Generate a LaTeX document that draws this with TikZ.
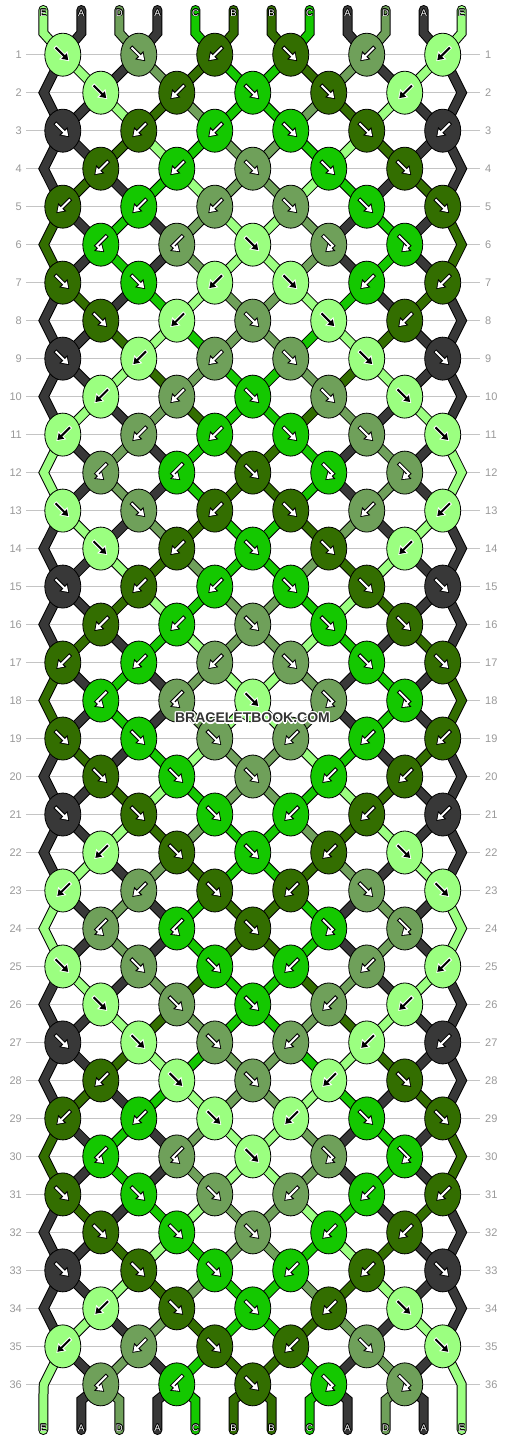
\documentclass[tikz,border=0pt]{standalone}
\usepackage{fontspec}
\setmainfont{Liberation Sans}
\usetikzlibrary{arrows.meta,shapes.geometric}

\definecolor{colA}{HTML}{383838}
\definecolor{colB}{HTML}{336E00}
\definecolor{colC}{HTML}{14C800}
\definecolor{colD}{HTML}{6FA05A}
\definecolor{colE}{HTML}{9BFF80}
\definecolor{rowgray}{HTML}{C4C4C4}
\definecolor{labgray}{HTML}{999999}
\definecolor{wmgray}{HTML}{333333}

\newcount\pcnt
\newif\ifedgepos
\newif\ifsegskip

% string states after each row (patterns)
\newcommand\defstate[2]{%
  \global\pcnt=0
  \foreach \sv in {#2}{%
    \global\advance\pcnt by 1
    \expandafter\xdef\csname st#1-\the\pcnt\endcsname{\sv}}}
\defstate{0}{E,A,D,A,C,B,B,C,A,D,A,E}
\defstate{1}{A,E,A,D,B,C,C,B,D,A,E,A}
\defstate{2}{A,A,E,B,D,C,C,D,B,E,A,A}
\defstate{3}{A,A,B,E,C,D,D,C,E,B,A,A}
\defstate{4}{A,B,A,C,E,D,D,E,C,A,B,A}
\defstate{5}{B,A,C,A,D,E,E,D,A,C,A,B}

% which pattern holds after row r (r = 0..36)
\newcommand\defrows[1]{%
  \global\pcnt=0
  \foreach \sv in {#1}{%
    \expandafter\xdef\csname rs\the\pcnt\endcsname{\sv}%
    \global\advance\pcnt by 1}}
\defrows{0,1,2,3,4,5,5,4,3,2,1,0,0,1,2,3,4,5,5,4,3,2,1,0,0,1,2,3,4,5,5,4,3,2,1,0,0}

% knot types per row
\newcommand\defknots[2]{%
  \global\pcnt=0
  \foreach \sv in {#2}{%
    \global\advance\pcnt by 1
    \expandafter\xdef\csname kt#1-\the\pcnt\endcsname{\sv}}}
\defknots{1}{f,f,b,f,b,b}
\defknots{2}{f,b,f,f,b}
\defknots{3}{f,b,b,f,f,b}
\defknots{4}{b,b,f,f,f}
\defknots{5}{b,b,b,f,f,f}
\defknots{6}{bf,bf,f,fb,fb}
\defknots{7}{f,f,b,f,b,b}
\defknots{8}{f,b,f,f,b}
\defknots{9}{f,b,b,f,f,f}
\defknots{10}{b,b,f,f,f}
\defknots{11}{b,b,b,f,f,f}
\defknots{12}{bf,bf,f,fb,fb}
\defknots{13}{f,f,b,f,b,b}
\defknots{14}{f,b,f,f,b}
\defknots{15}{f,b,b,f,f,f}
\defknots{16}{b,b,f,f,f}
\defknots{17}{b,b,b,f,f,f}
\defknots{18}{bf,bf,f,fb,fb}
\defknots{19}{f,f,f,b,b,b}
\defknots{20}{f,f,f,b,b}
\defknots{21}{f,f,f,b,b,b}
\defknots{22}{b,f,f,b,f}
\defknots{23}{b,b,f,b,f,f}
\defknots{24}{bf,bf,f,fb,fb}
\defknots{25}{f,f,f,b,b,b}
\defknots{26}{f,f,f,b,b}
\defknots{27}{f,f,f,b,b,b}
\defknots{28}{b,f,f,b,f}
\defknots{29}{b,b,f,b,f,f}
\defknots{30}{bf,bf,f,fb,fb}
\defknots{31}{f,f,f,b,b,b}
\defknots{32}{f,f,f,b,b}
\defknots{33}{f,f,f,b,b,f}
\defknots{34}{b,f,f,b,f}
\defknots{35}{b,b,f,b,f,f}
\defknots{36}{bf,bf,f,fb,fb}

\def\typef{f}
\def\typeb{b}
\def\typefb{fb}
\def\typebf{bf}
\def\letterE{E}

% name of the point where position #3 sits in row #2
\newcommand\setQ[3]{%
  \ifnum#2=0\relax
    \edef#1{tb-#3}%
  \else
    \ifodd#2\relax
      \pgfmathtruncatemacro\kk{(#3+1)/2}%
      \edef#1{c-#2-\kk}%
    \else
      \ifnum#3=1\relax \edef#1{e-#2-1}%
      \else\ifnum#3=12\relax \edef#1{e-#2-12}%
      \else
        \pgfmathtruncatemacro\kk{#3/2}%
        \edef#1{c-#2-\kk}%
      \fi\fi
    \fi
  \fi}

\begin{document}
\begin{tikzpicture}[x=1pt,y=-1pt,
  knot/.style={ellipse,draw=black,line width=0.8pt,minimum width=36pt,minimum height=43pt,inner sep=0pt},
  bandout/.style={draw=black,line width=10pt,line join=miter,line cap=round},
  bandin/.style={draw=#1,line width=8pt,line join=miter,line cap=round},
  arrout/.style={draw=#1,line width=4pt,line cap=rect,line join=miter,-{Triangle[length=8.5pt,width=11pt]}},
  arrin/.style={draw=#1,line width=2pt,line cap=rect,line join=miter,shorten >=1.5pt,-{Triangle[length=5.8pt,width=7.4pt]}},
  rowline/.style={draw=rowgray,line width=0.9pt},
  rowlab/.style={text=labgray,font=\fontsize{11}{13}\selectfont,inner sep=2pt},
  strlab/.style={font=\fontsize{9.5}{11}\selectfont,inner sep=0pt},
  wmark/.style={font=\bfseries\fontsize{14}{16}\selectfont,inner sep=0pt}
]
\useasboundingbox (0,0) rectangle (506,1440);
\fill[white] (0,0) rectangle (506,1440);

% ---------- coordinates ----------
\foreach \r in {1,...,36}{%
  \pgfmathsetmacro\yy{54.7+37.99*(\r-1)}%
  \ifodd\r\relax
    \foreach \k in {1,...,6}{%
      \pgfmathsetmacro\xx{62.8+75.98*(\k-1)}%
      \coordinate (c-\r-\k) at (\xx,\yy);}%
  \else
    \foreach \k in {1,...,5}{%
      \pgfmathsetmacro\xx{100.8+75.98*(\k-1)}%
      \coordinate (c-\r-\k) at (\xx,\yy);}%
    \coordinate (e-\r-1) at (43.8,\yy);
    \coordinate (e-\r-12) at (461.7,\yy);
  \fi
}
\foreach \p in {1,...,12}{%
  \pgfmathsetmacro\xx{43.3+38.04*(\p-1)}%
  \coordinate (tt-\p) at (\xx,10);
  \coordinate (tb-\p) at (\xx,33);
  \coordinate (bb-\p) at (\xx,1400);
  \coordinate (be-\p) at (\xx,1430);
}

% ---------- row lines and numbers ----------
\foreach \r in {1,...,36}{%
  \pgfmathsetmacro\yy{54.7+37.99*(\r-1)}%
  \node[rowlab,anchor=east] (ll-\r) at (24,\yy) {\r};
  \node[rowlab,anchor=west] (lr-\r) at (483,\yy) {\r};
  \draw[rowline,shorten <=2pt,shorten >=3pt] (ll-\r) -- (lr-\r);
}

% ---------- strings ----------
\foreach \r in {1,...,37}{%
  \pgfmathtruncatemacro\rp{\r-1}%
  \pgfmathtruncatemacro\rn{\r+1}%
  \foreach \p in {1,...,12}{%
    \edef\bcol{col\csname st\csname rs\rp\endcsname-\p\endcsname}%
    \setQ\qa{\rp}{\p}%
    \setQ\qb{\r}{\p}%
    \edgeposfalse
    \ifnum\p=1\relax\edgepostrue\fi
    \ifnum\p=12\relax\edgepostrue\fi
    \segskipfalse
    \ifedgepos\ifodd\rp\relax\else\ifnum\rp>0\relax\segskiptrue\fi\fi\fi
    \ifnum\r=1\relax
      \edef\pth{(tt-\p) -- (tb-\p) -- (\qb)}%
    \else\ifnum\r=37\relax
      \edef\pth{(\qa) -- (bb-\p) -- (be-\p)}%
    \else
      \edef\pth{(\qa) -- (\qb)}%
      \ifedgepos\ifodd\r\relax\else
        \ifnum\rn=37\relax
          \edef\pth{(\qa) -- (\qb) -- (bb-\p) -- (be-\p)}%
        \else
          \setQ\qc{\rn}{\p}%
          \edef\pth{(\qa) -- (\qb) -- (\qc)}%
        \fi
      \fi\fi
    \fi\fi
    \ifsegskip\else
      \draw[bandout] \pth;
      \draw[bandin=\bcol] \pth;
    \fi
  }%
}

% ---------- knots ----------
\foreach \r in {1,...,36}{%
  \pgfmathtruncatemacro\rp{\r-1}%
  \ifodd\r\relax \def\nk{6}\def\off{0}\else \def\nk{5}\def\off{1}\fi
  \foreach \k in {1,...,\nk}{%
    \pgfmathtruncatemacro\lp{2*\k-1+\off}%
    \pgfmathtruncatemacro\rpos{\lp+1}%
    \edef\kt{\csname kt\r-\k\endcsname}%
    \edef\Ll{\csname st\csname rs\rp\endcsname-\lp\endcsname}%
    \edef\Rl{\csname st\csname rs\rp\endcsname-\rpos\endcsname}%
    \ifx\kt\typef \let\cl\Ll \else \ifx\kt\typefb \let\cl\Ll \else \let\cl\Rl \fi\fi
    \ifx\cl\letterE \def\arO{white}\def\arI{black}\else \def\arO{black}\def\arI{white}\fi
    \node[knot,fill=col\cl] (k-\r-\k) at (c-\r-\k) {};
    \ifx\kt\typef  \def\apth{(-6.5,-6.5) -- (6.5,6.5)}\fi
    \ifx\kt\typeb  \def\apth{(6.5,-6.5) -- (-6.5,6.5)}\fi
    \ifx\kt\typebf \def\apth{(5,-8) -- (-4,1) -- (3.5,7.5)}\fi
    \ifx\kt\typefb \def\apth{(-5,-8) -- (4,1) -- (-3.5,7.5)}\fi
    \begin{scope}[shift={(c-\r-\k)}]
      \draw[arrout=\arO] \apth;
      \draw[arrin=\arI] \apth;
    \end{scope}
  }%
}

% ---------- string letters ----------
\foreach \p in {1,...,12}{%
  \pgfmathsetmacro\xx{43.3+38.04*(\p-1)}%
  \edef\lt{\csname st0-\p\endcsname}%
  \foreach \dx/\dy in {-0.7/0,0.7/0,0/-0.7,0/0.7,-0.5/-0.5,0.5/0.5,-0.5/0.5,0.5/-0.5}{%
    \node[strlab,text=black] at (\xx+\dx,13+\dy) {\lt};
    \node[strlab,text=black] at (\xx+\dx,1428+\dy) {\lt};
  }
  \node[strlab,text=white] (st-\p) at (\xx,13) {\lt};
  \node[strlab,text=white] (sb-\p) at (\xx,1428) {\lt};
}

% ---------- watermark ----------
\foreach \dx/\dy in {-1.2/0,1.2/0,0/-1.2,0/1.2,-0.9/-0.9,0.9/0.9,-0.9/0.9,0.9/-0.9}{%
  \node[wmark,text=white] at (252.5+\dx,718+\dy) {BRACELETBOOK.COM};
}
\node[wmark,text=wmgray] (wm) at (252.5,718) {BRACELETBOOK.COM};
\end{tikzpicture}
\end{document}
